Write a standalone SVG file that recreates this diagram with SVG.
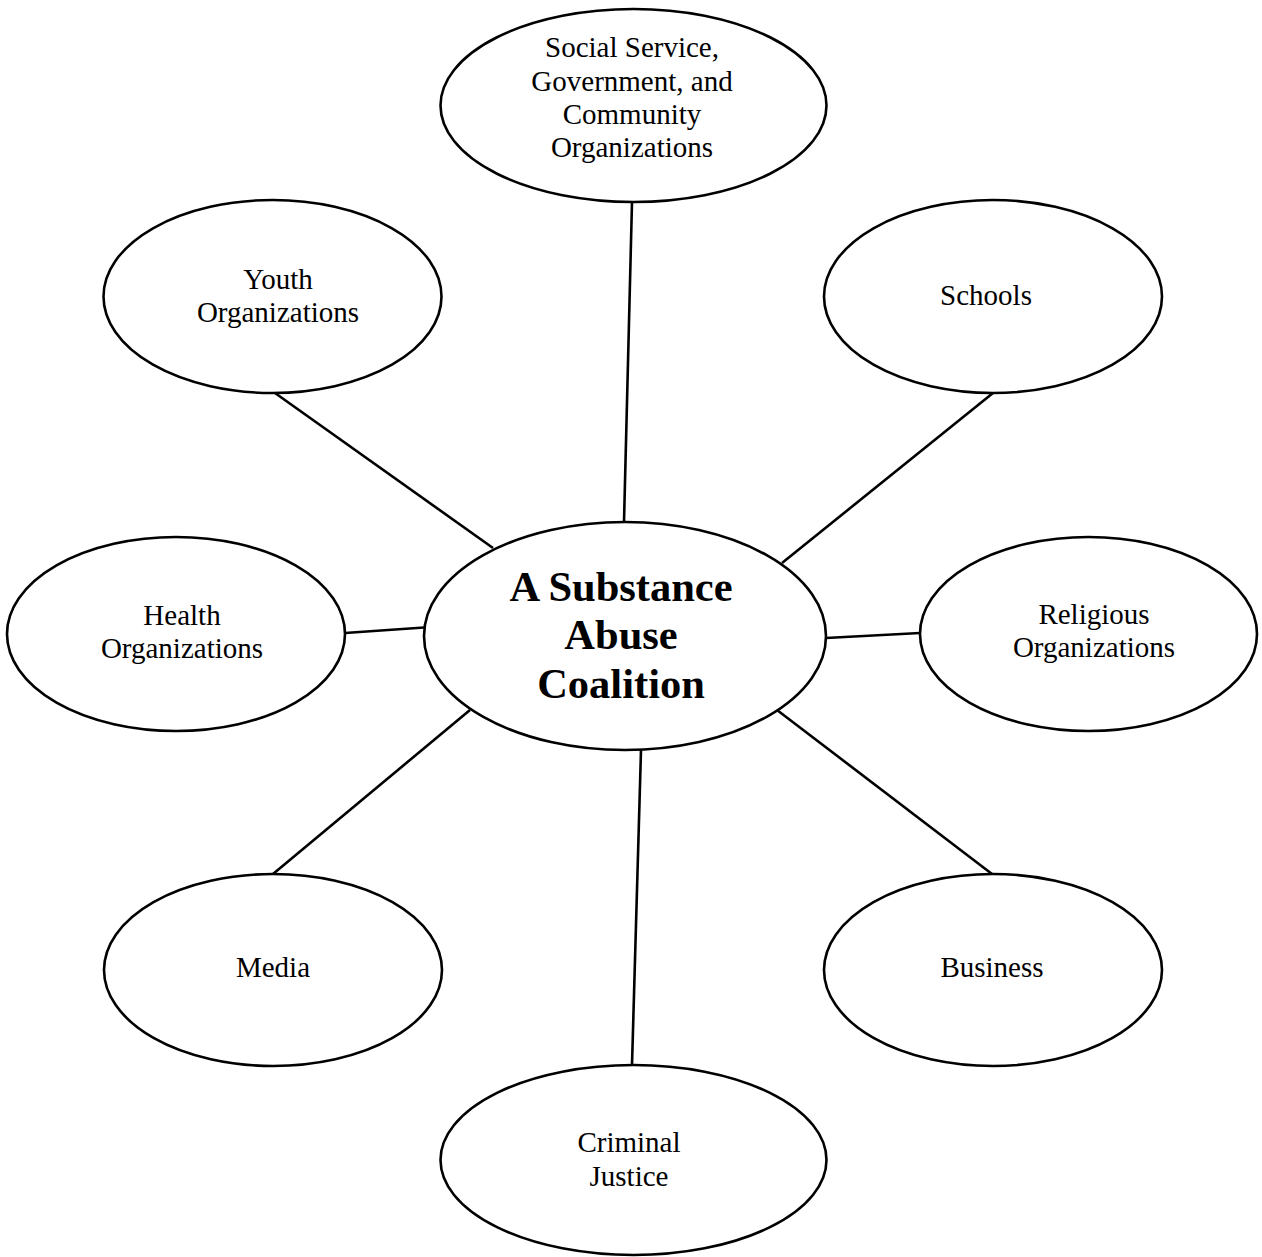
<svg xmlns="http://www.w3.org/2000/svg" width="1262" height="1257" viewBox="0 0 1262 1257">
  <style>
    .bubble { fill: #ffffff; stroke: #000000; stroke-width: 2.6; }
    .link { stroke: #000000; stroke-width: 2.6; fill: none; }
    .label { font-family: "Liberation Serif", "Times New Roman", serif; font-size: 29px; fill: #000000; text-anchor: middle; }
    .hub { font-family: "Liberation Serif", "Times New Roman", serif; font-size: 42.5px; font-weight: bold; fill: #000000; text-anchor: middle; }
  </style>
  <rect width="1262" height="1257" fill="#ffffff"/>

  <!-- spokes from the hub to each member group -->
  <g id="connectors">
    <line class="link" x1="632" y1="202" x2="624" y2="522"/>
    <line class="link" x1="275" y1="393" x2="493" y2="548"/>
    <line class="link" x1="993" y1="393" x2="782" y2="563"/>
    <line class="link" x1="345" y1="633" x2="424" y2="627.5"/>
    <line class="link" x1="826" y1="638" x2="920" y2="633"/>
    <line class="link" x1="273" y1="874" x2="470" y2="710"/>
    <line class="link" x1="992" y1="874" x2="777" y2="710"/>
    <line class="link" x1="641" y1="750" x2="632" y2="1065"/>
  </g>

  <g id="hub">
    <ellipse class="bubble" cx="625" cy="636" rx="201" ry="114"/>
    <text class="hub" x="621" y="601">A Substance</text>
    <text class="hub" x="621" y="649">Abuse</text>
    <text class="hub" x="621" y="698">Coalition</text>
  </g>

  <g id="social-service">
    <ellipse class="bubble" cx="633.5" cy="105.5" rx="193" ry="96.5"/>
    <text class="label" x="632" y="57">Social Service,</text>
    <text class="label" x="632" y="90.5">Government, and</text>
    <text class="label" x="632" y="124">Community</text>
    <text class="label" x="632" y="157">Organizations</text>
  </g>

  <g id="youth">
    <ellipse class="bubble" cx="272.5" cy="296.5" rx="169" ry="96.5"/>
    <text class="label" x="278" y="289">Youth</text>
    <text class="label" x="278" y="322">Organizations</text>
  </g>

  <g id="schools">
    <ellipse class="bubble" cx="993" cy="296.5" rx="169" ry="96.5"/>
    <text class="label" x="986" y="305">Schools</text>
  </g>

  <g id="health">
    <ellipse class="bubble" cx="176" cy="634" rx="169" ry="97"/>
    <text class="label" x="182" y="625">Health</text>
    <text class="label" x="182" y="658">Organizations</text>
  </g>

  <g id="religious">
    <ellipse class="bubble" cx="1088.5" cy="634" rx="168.5" ry="97"/>
    <text class="label" x="1094" y="624">Religious</text>
    <text class="label" x="1094" y="657">Organizations</text>
  </g>

  <g id="media">
    <ellipse class="bubble" cx="273" cy="970" rx="169" ry="96"/>
    <text class="label" x="273" y="977">Media</text>
  </g>

  <g id="business">
    <ellipse class="bubble" cx="993" cy="970" rx="169" ry="96"/>
    <text class="label" x="992" y="977">Business</text>
  </g>

  <g id="criminal-justice">
    <ellipse class="bubble" cx="633.5" cy="1160" rx="193" ry="95"/>
    <text class="label" x="629" y="1152">Criminal</text>
    <text class="label" x="629" y="1186">Justice</text>
  </g>
</svg>
